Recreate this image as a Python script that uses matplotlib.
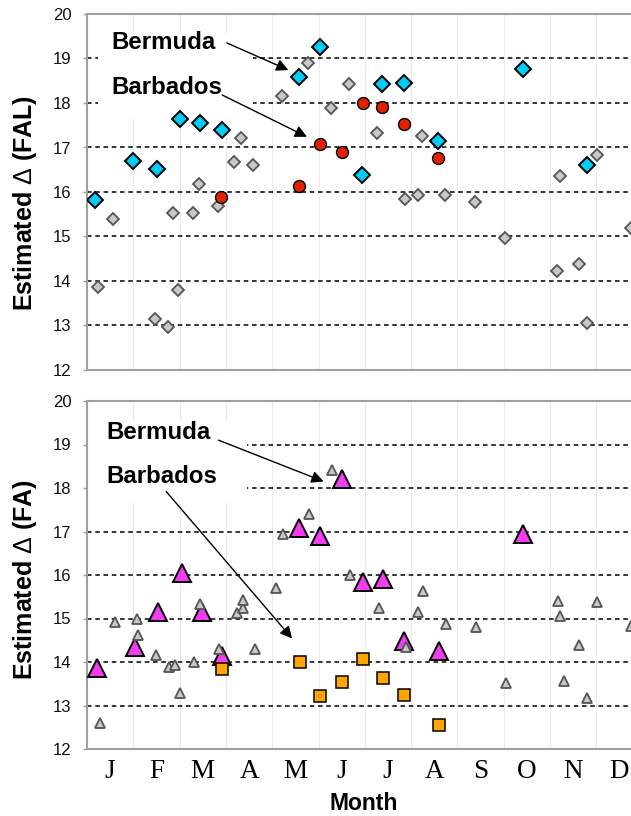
import matplotlib
matplotlib.use("Agg")
import matplotlib.pyplot as plt
from matplotlib.patches import Rectangle

plt.rcParams['font.family'] = ['Liberation Sans', 'DejaVu Sans']
plt.rcParams['mathtext.fontset'] = 'custom'
plt.rcParams['mathtext.rm'] = 'Liberation Sans'
plt.rcParams['mathtext.it'] = 'Liberation Sans'
plt.rcParams['mathtext.bf'] = 'Liberation Sans:bold'

# ---------------- data (x in months from Jan 1) ----------------
months = ['J', 'F', 'M', 'A', 'M', 'J', 'J', 'A', 'S', 'O', 'N', 'D']
yticks = [12, 13, 14, 15, 16, 17, 18, 19, 20]

# Top panel: Estimated Delta (FAL)
fal_bermuda_x = [0.17, 1.00, 1.51, 2.01, 2.43, 2.92, 4.57, 5.04, 5.95, 6.38, 6.85, 7.59, 9.41, 10.79]
fal_bermuda_y = [15.82, 16.70, 16.52, 17.63, 17.54, 17.39, 18.59, 19.25, 16.38, 18.43, 18.44, 17.15, 18.76, 16.61]

fal_barbados_x = [2.90, 4.57, 5.03, 5.50, 5.96, 6.38, 6.85, 7.59]
fal_barbados_y = [15.88, 16.14, 17.08, 16.91, 17.99, 17.90, 17.53, 16.76]

fal_other_x = [0.23, 0.56, 1.46, 1.74, 1.85, 1.96, 2.28, 2.41, 2.82, 3.18, 3.33, 3.59, 4.21, 4.78,
               5.26, 5.66, 6.27, 6.87, 7.14, 7.23, 7.73, 8.38, 9.03, 10.16, 10.22, 10.62, 10.79,
               11.02, 11.75]
fal_other_y = [13.86, 15.39, 13.14, 12.97, 15.52, 13.80, 15.52, 16.17, 15.69, 16.68, 17.21, 16.61,
               18.16, 18.91, 17.88, 18.43, 17.33, 15.84, 15.93, 17.26, 15.93, 15.78, 14.97, 14.23,
               16.37, 14.38, 13.06, 16.83, 15.18]

# Bottom panel: Estimated Delta (FA)
fa_bermuda_x = [0.21, 1.04, 1.54, 2.05, 2.48, 2.92, 4.57, 5.04, 5.51, 5.97, 6.40, 6.85, 7.60, 9.41]
fa_bermuda_y = [13.86, 14.35, 15.16, 16.04, 15.16, 14.14, 17.07, 16.90, 18.21, 15.85, 15.90, 14.48, 14.26, 16.94]

fa_barbados_x = [2.92, 4.59, 5.04, 5.51, 5.97, 6.40, 6.85, 7.60]
fa_barbados_y = [13.83, 14.01, 13.22, 13.53, 14.08, 13.63, 13.24, 12.55]

fa_other_x = [0.28, 0.61, 1.08, 1.11, 1.49, 1.78, 1.89, 2.01, 2.32, 2.45, 2.86, 3.23, 3.36, 3.36,
              3.62, 4.08, 4.24, 4.79, 5.30, 5.68, 6.31, 6.90, 7.15, 7.26, 7.75, 8.40, 9.06, 10.17,
              10.22, 10.30, 10.62, 10.79, 11.02, 11.75]
fa_other_y = [12.59, 14.93, 14.99, 14.62, 14.16, 13.89, 13.93, 13.28, 14.01, 15.33, 14.31, 15.12,
              15.23, 15.43, 14.31, 15.69, 16.94, 17.40, 18.41, 16.00, 15.23, 14.35, 15.14, 15.64,
              14.87, 14.80, 13.51, 15.41, 15.06, 13.57, 14.38, 13.18, 15.37, 14.83]

# ---------------- figure ----------------
W, H = 631, 816
fig = plt.figure(figsize=(W / 100, H / 100), dpi=100)

left = 87 / W
width = 12 * 46.3 / W
ax1 = fig.add_axes([left, 1 - 370 / H, width, (370 - 14) / H])
ax2 = fig.add_axes([left, 1 - 749 / H, width, (749 - 401) / H])

spine_col = '#a0a0a0'
for ax in (ax1, ax2):
    ax.set_xlim(0, 12)
    ax.set_ylim(12, 20)
    ax.set_yticks(yticks)
    ax.set_xticks(range(0, 13))
    ax.set_xticks([m + 0.5 for m in range(12)], minor=True)
    ax.tick_params(axis='y', direction='out', length=3, width=1, color=spine_col,
                   pad=8, labelsize=12, labelcolor='#111111')
    ax.tick_params(axis='x', which='both', length=0)
    ax.set_xticklabels([])
    for s in ax.spines.values():
        s.set_color(spine_col)
        s.set_linewidth(1.5)
    # faint month separators
    for m in range(1, 12):
        ax.axvline(m, color='#ebebeb', lw=0.8, zorder=0)
    # dashed horizontal grid
    for yv in yticks[1:-1]:
        ax.axhline(yv, color='black', lw=1.1, ls=(0, (3, 2.4)), zorder=1)

ax2.set_xticklabels(months, minor=True, family='Liberation Serif', fontsize=19.5)
ax2.tick_params(axis='x', which='minor', pad=7)

# white boxes behind the site labels
ax1.add_patch(Rectangle((0.24, 17.65), 3.35, 1.9, facecolor='white', edgecolor='none', zorder=1.5))
ax2.add_patch(Rectangle((0.0, 17.65), 3.45, 1.9, facecolor='white', edgecolor='none', zorder=1.5))

gray_fc = '#c8c8c8'
gray_ec = '#555555'

# top panel markers
ax1.plot(fal_other_x, fal_other_y, 'D', ms=6.3, mfc=gray_fc, mec=gray_ec, mew=1.3, zorder=3)
ax1.plot(fal_bermuda_x, fal_bermuda_y, 'D', ms=8.6, mfc='#00ccf5', mec='black', mew=1.4, zorder=4)
ax1.plot(fal_barbados_x, fal_barbados_y, 'o', ms=8.6, mfc='#e02200', mec='black', mew=1.0, zorder=5)

# bottom panel markers
ax2.plot(fa_bermuda_x, fa_bermuda_y, '^', ms=12.5, mfc='#f23cf2', mec='black', mew=1.4, zorder=3)
ax2.plot(fa_barbados_x, fa_barbados_y, 's', ms=9.2, mfc='#ffa500', mec='black', mew=1.1, zorder=4)
ax2.plot(fa_other_x, fa_other_y, '^', ms=7.8, mfc=gray_fc, mec=gray_ec, mew=1.3, zorder=5)

# annotations
tfont = dict(fontsize=17.3, fontweight='bold', family='Liberation Sans', va='center', ha='left', zorder=6)
arrow = dict(arrowstyle='-|>', color='black', lw=1.0, mutation_scale=18, shrinkA=0, shrinkB=0)

ax1.text(0.53, 19.35, 'Bermuda', **tfont)
ax1.annotate('', xy=(4.35, 18.74), xytext=(3.02, 19.35), arrowprops=arrow, zorder=6)
ax1.text(0.53, 18.35, 'Barbados', **tfont)
ax1.annotate('', xy=(4.75, 17.24), xytext=(2.92, 18.18), arrowprops=arrow, zorder=6)

ax2.text(0.41, 19.28, 'Bermuda', **tfont)
ax2.annotate('', xy=(5.11, 18.15), xytext=(2.84, 19.10), arrowprops=arrow, zorder=6)
ax2.text(0.41, 18.26, 'Barbados', **tfont)
ax2.annotate('', xy=(4.43, 14.54), xytext=(1.71, 17.92), arrowprops=arrow, zorder=6)

# axis labels
fig.text(25 / W, 1 - 203 / H, 'Estimated $\\Delta$ (FAL)', rotation=90, fontsize=18,
         fontweight='bold', ha='center', va='center')
fig.text(25 / W, 1 - 580 / H, 'Estimated $\\Delta$ (FA)', rotation=90, fontsize=18,
         fontweight='bold', ha='center', va='center')
fig.text(364 / W, 1 - 803 / H, 'Month', fontsize=16.5, fontweight='bold', ha='center', va='center')

fig.savefig('out.png', dpi=100)
